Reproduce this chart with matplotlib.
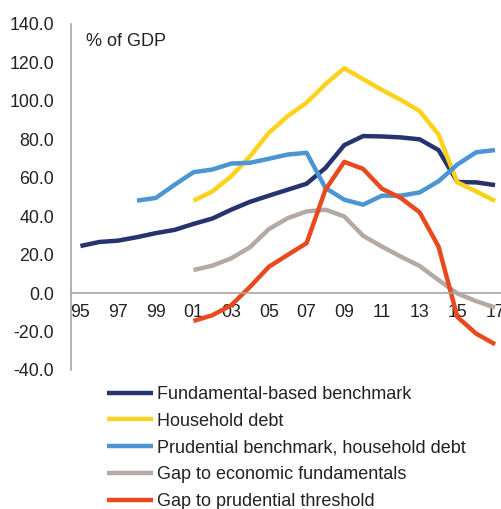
import numpy as np
import matplotlib
matplotlib.use("Agg")
import matplotlib.pyplot as plt

plt.rcParams["font.family"] = ["Liberation Sans", "DejaVu Sans"]

years = np.arange(1995, 2018)
nan = np.nan

fundamental = [24.5, 26.6, 27.3, 29.1, 31.2, 32.9, 36.0, 38.8, 43.4, 47.5, 50.7, 53.8,
               56.9, 65.1, 77.0, 81.7, 81.5, 81.0, 80.0, 74.4, 57.8, 57.6, 56.2]
household = [nan] * 6 + [48.1, 52.9, 60.8, 71.2, 83.4, 92.1, 99.1, 108.7, 117.0, 111.3,
                         105.7, 100.5, 94.7, 82.5, 57.6, 52.9, 47.9]
prudential = [nan] * 3 + [48.1, 49.5, 56.4, 62.9, 64.3, 67.4, 67.8, 69.9, 72.1, 73.0, 54.7,
                          48.6, 46.0, 50.7, 50.7, 52.4, 58.2, 66.9, 73.3, 74.4]
gap_fund = [nan] * 6 + [12.0, 14.3, 18.1, 23.9, 33.3, 39.0, 42.5, 43.4, 39.9, 29.8,
                        24.2, 19.0, 14.1, 6.8, -0.2, -4.2, -7.5]
gap_prud = [nan] * 6 + [-14.5, -11.5, -6.3, 3.3, 13.7, 19.9, 26.0, 53.8, 68.3, 64.6,
                        54.3, 49.5, 42.0, 24.2, -12.4, -21.1, -26.6]

series = [
    ("Fundamental-based benchmark", fundamental, "#27336f"),
    ("Household debt", household, "#fdd21c"),
    ("Prudential benchmark, household debt", prudential, "#4b96d2"),
    ("Gap to economic fundamentals", gap_fund, "#b4a9a3"),
    ("Gap to prudential threshold", gap_prud, "#e8491d"),
]

fig = plt.figure(figsize=(5.02, 5.09), dpi=100)
ax = fig.add_axes([71 / 502, 1 - 370 / 509, 433.5 / 502, 346 / 509])

for name, vals, col in series:
    ax.plot(years, np.array(vals, dtype=float), color=col, lw=3.2, label=name,
            solid_capstyle="butt")

ax.set_xlim(1994.5, 2017.5)
ax.set_ylim(-40, 140)
ax.set_yticks(np.arange(-40, 141, 20))
ax.set_yticklabels([f"{v:.1f}" for v in np.arange(-40, 141, 20)])
xt = np.arange(1995, 2018, 2)
ax.set_xticks(xt)
ax.set_xticklabels([f"{y % 100:02d}" for y in xt])

for s in ["top", "right"]:
    ax.spines[s].set_visible(False)
ax.spines["bottom"].set_position(("data", 0))
for s in ["left", "bottom"]:
    ax.spines[s].set_color("#a6a6a6")
    ax.spines[s].set_linewidth(1.2)
ax.tick_params(axis="both", length=0, labelsize=12.8, colors="#222222")
ax.tick_params(axis="x", pad=8)
ax.tick_params(axis="y", pad=12)

ax.text(0.035, 0.95, "% of GDP", transform=ax.transAxes, fontsize=13,
        color="#222222", va="center", ha="left")

fig.legend(loc="upper left", bbox_to_anchor=(107 / 502, 1 - 386 / 509),
           frameon=False, fontsize=13, handlelength=2.55, handletextpad=0.22,
           labelspacing=0.54, borderpad=0, borderaxespad=0, labelcolor="#222222")

fig.savefig("out.png", dpi=100)
